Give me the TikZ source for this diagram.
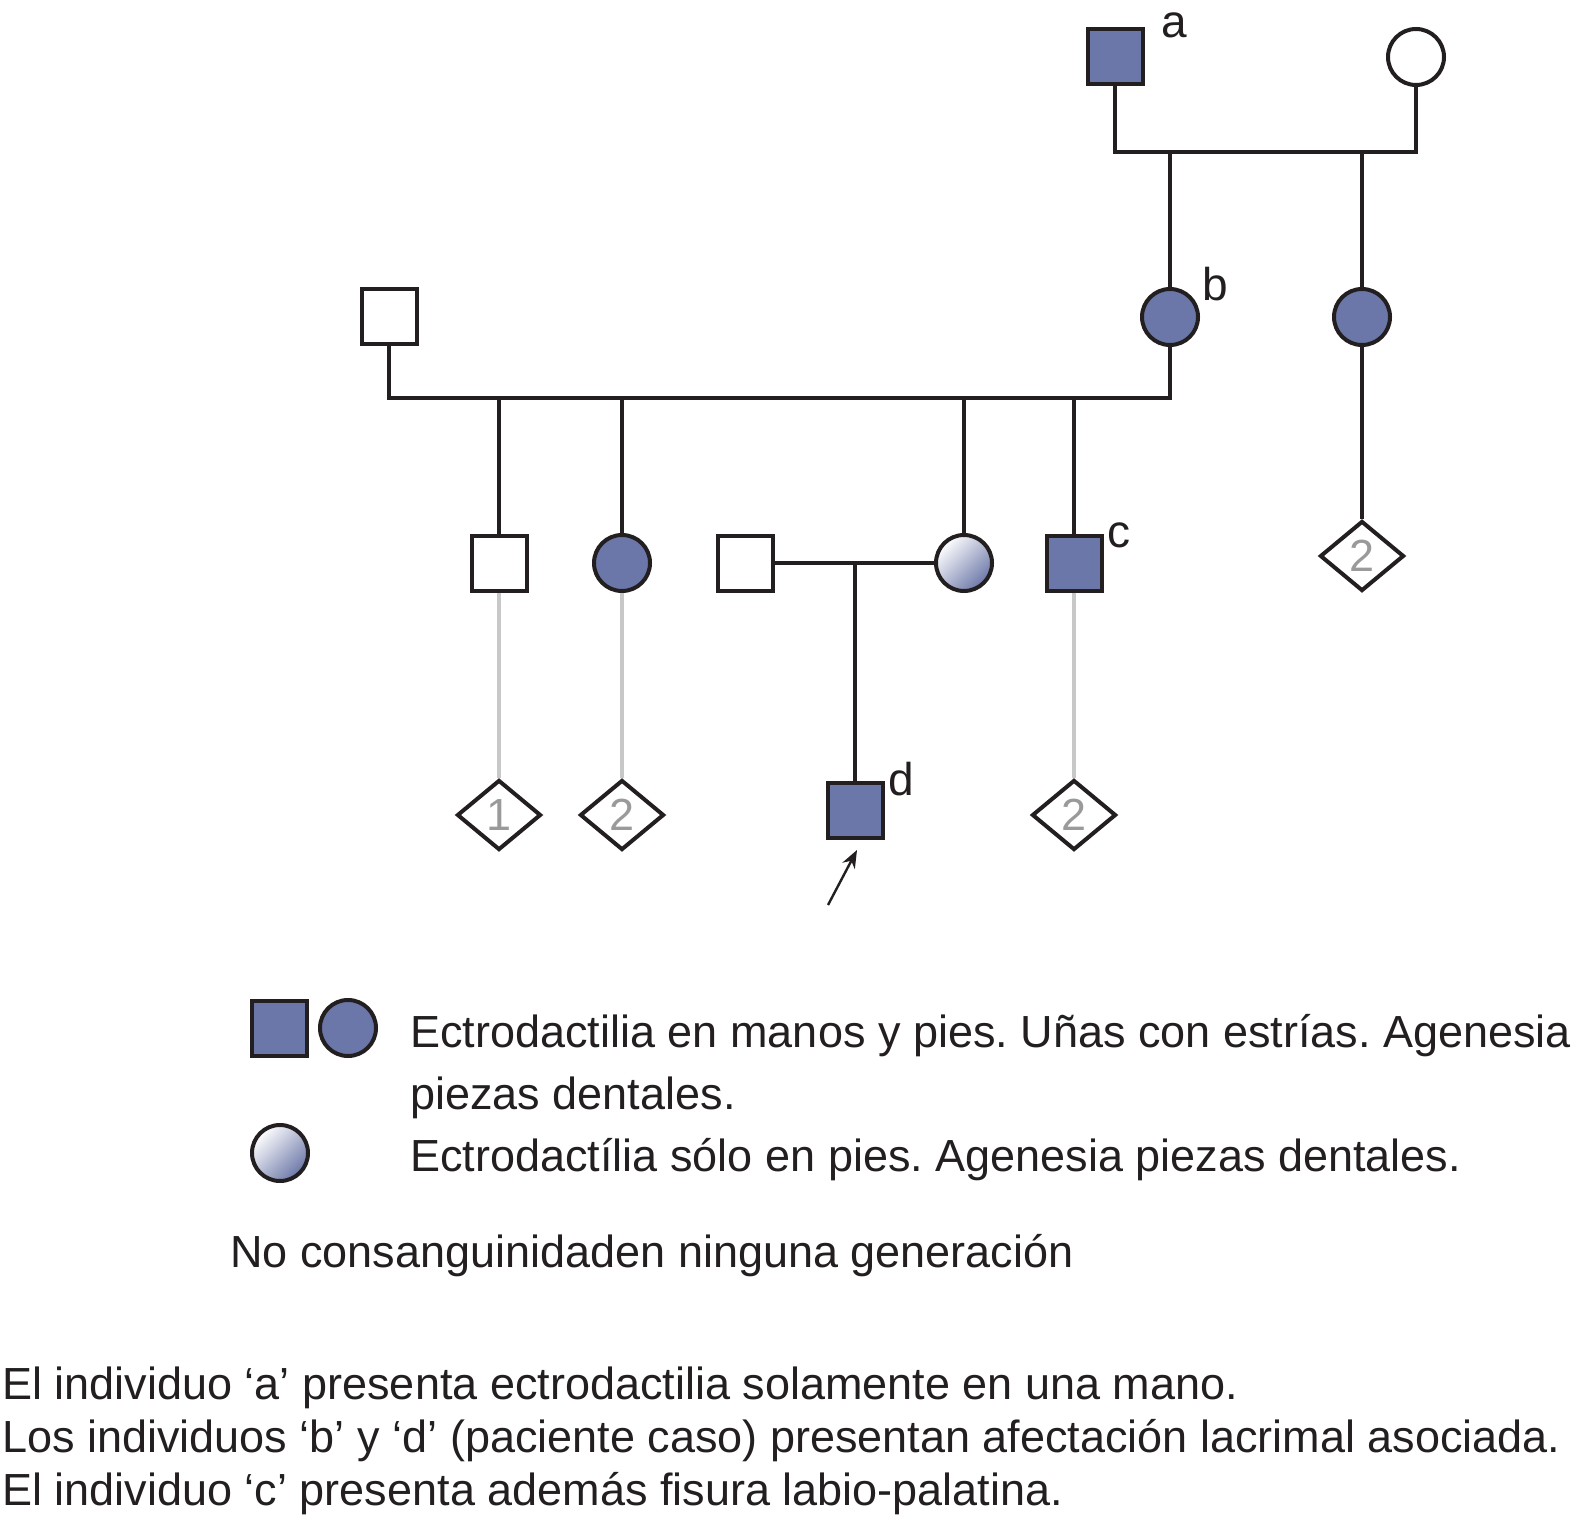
\documentclass[tikz,border=0pt]{standalone}
\usepackage{fontspec}
\setmainfont{Liberation Sans}
\usetikzlibrary{shapes.geometric,arrows.meta}
\definecolor{aff}{HTML}{6B77A8}
\definecolor{ink}{HTML}{231F20}
\definecolor{graytxt}{HTML}{9A9A9A}
\definecolor{grayline}{HTML}{C8C8C8}
\frenchspacing
\tikzset{
  base/.style={draw=ink, line width=2pt, inner sep=0pt},
  male/.style={base, rectangle, minimum size=27.5pt},
  female/.style={base, circle, minimum size=28pt},
  affected/.style={fill=aff},
  partial/.style={top color=white, bottom color=aff, shading angle=45},
  sibs/.style={base, diamond, minimum width=42pt, minimum height=35pt, text=graytxt, font=\fontsize{22.5}{22.5}\selectfont},
  lbl/.style={font=\fontsize{23}{23}\selectfont, text=ink, inner sep=0pt},
  txt/.style={font=\fontsize{22.5}{27}\selectfont, text=ink, inner sep=0pt, anchor=base west},
  rel/.style={draw=ink, line width=2pt},
  grel/.style={draw=grayline, line width=1.6pt},
}
\begin{document}
\begin{tikzpicture}[x=0.5pt,y=-0.5pt]
\useasboundingbox (0,0) rectangle (1574,1524);
% Generation I
\node[male,affected] (a) at (1115,57) {};
\node[female] (aw) at (1416,57) {};
\node[lbl] (la) at (1174,25) {a};
% Generation II
\node[male] (h2) at (389,317) {};
\node[female,affected] (b) at (1170,317) {};
\node[female,affected] (s2) at (1362,317) {};
\node[lbl] (lb) at (1215,284) {b};
% Generation III
\node[male] (c1) at (499,563) {};
\node[female,affected] (c2) at (622,563) {};
\node[male] (sp) at (745,563) {};
\node[female,partial] (c3) at (964,563) {};
\node[male,affected] (c) at (1074,563) {};
\node[lbl] (lc) at (1119,535) {c};
\node[sibs] (q1) at (1362,556) {2};
% Generation IV
\node[sibs] (g1) at (499,815) {1};
\node[sibs] (g2) at (622,815) {2};
\node[male,affected] (d) at (855,810) {};
\node[sibs] (g3) at (1074,815) {2};
\node[lbl] (ld) at (901,779) {d};
% connectors gen I
\coordinate (m1) at (1115,152);
\draw[rel] (a.south) -- (m1) -- (m1 -| aw.south) -- (aw.south);
\draw[rel] (m1 -| b.north) -- (b.north);
\draw[rel] (m1 -| s2.north) -- (s2.north);
% gen II
\coordinate (m2) at (389,398);
\draw[rel] (h2.south) -- (m2) -- (m2 -| b.south) -- (b.south);
\draw[rel] (m2 -| c1.north) -- (c1.north);
\draw[rel] (m2 -| c2.north) -- (c2.north);
\draw[rel] (m2 -| c3.north) -- (c3.north);
\draw[rel] (m2 -| c.north) -- (c.north);
\draw[rel] (s2.south) -- (q1.north);
% gen III
\coordinate (m3) at (855,563);
\draw[rel] (sp.east) -- (c3.west);
\draw[rel] (m3) -- (d.north);
\draw[grel] (c1.south) -- (g1.north);
\draw[grel] (c2.south) -- (g2.north);
\draw[grel] (c.south) -- (g3.north);
% proband arrow
\coordinate (at) at (828,905);
\coordinate (ah) at (857,850);
\draw[ink, line width=1.2pt, -{Stealth[length=9pt,width=7pt]}] (at) -- (ah);
% legend
\node[male,affected] (k1) at (279,1028) {};
\node[female,affected] (k2) at (348,1028) {};
\node[female,partial] (k3) at (280,1153) {};
\node[txt] (t1) at (410,1047) {Ectrodactilia en manos y pies. Uñas con estrías. Agenesia};
\node[txt] (t2) at (410,1109) {piezas dentales.};
\node[txt] (t3) at (410,1171) {Ectrodactília sólo en pies. Agenesia piezas dentales.};
\node[txt] (t4) at (230,1267) {No consanguinidaden ninguna generación};
\node[txt] (t5) at (2,1399) {El individuo ‘a’ presenta ectrodactilia solamente en una mano.};
\node[txt] (t6) at (2,1452) {Los individuos ‘b’ y ‘d’ (paciente caso) presentan afectación lacrimal asociada.};
\node[txt] (t7) at (2,1505) {El individuo ‘c’ presenta además fisura labio-palatina.};
\end{tikzpicture}
\end{document}
